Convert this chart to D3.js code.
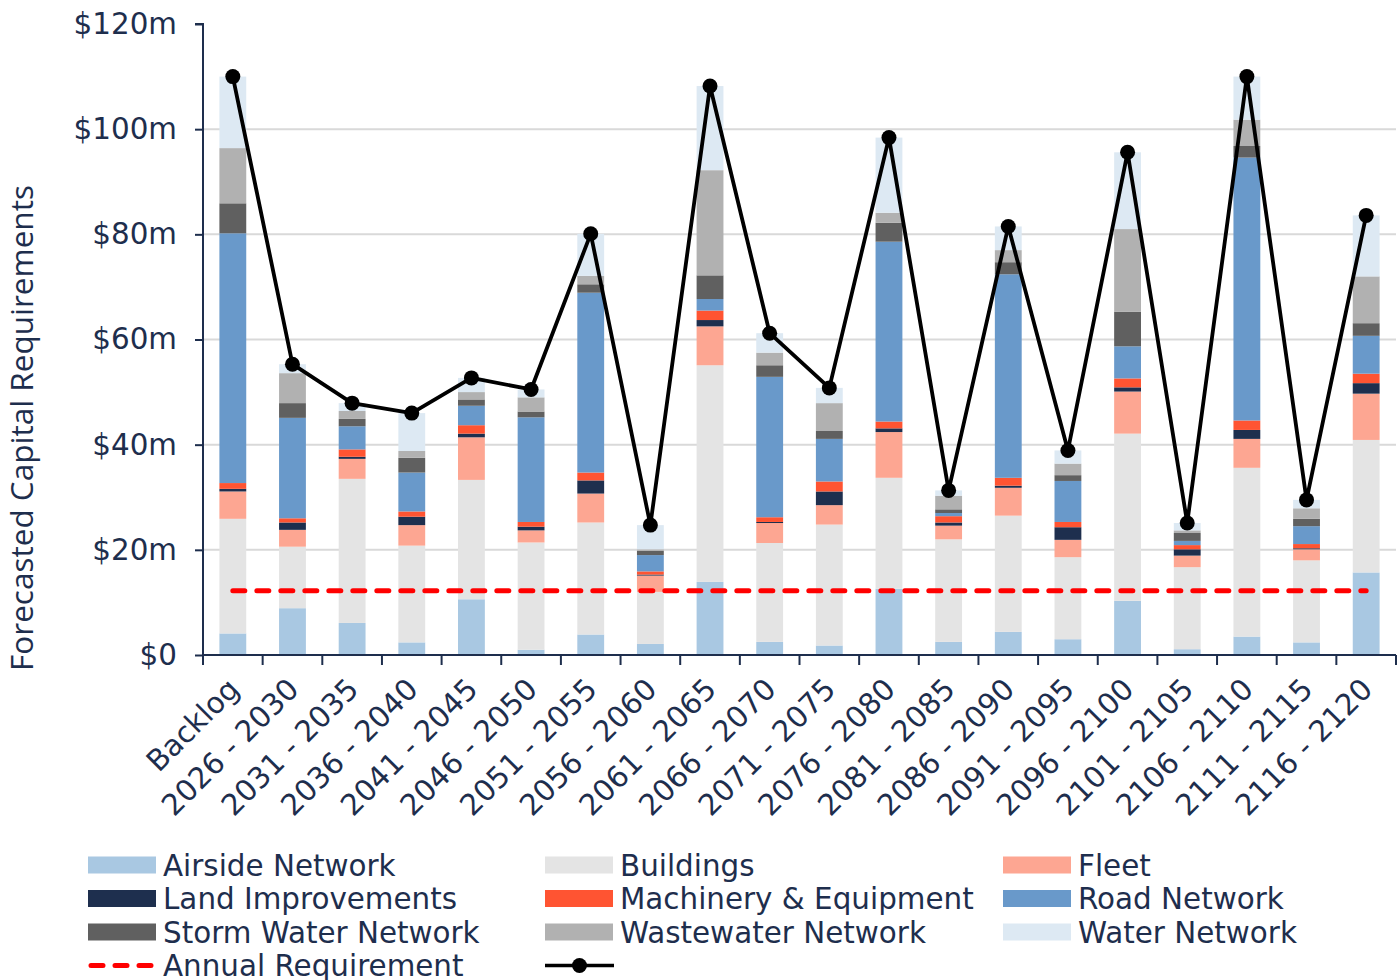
<!DOCTYPE html>
<html>
<head>
<meta charset="utf-8">
<script src="https://cdn.jsdelivr.net/npm/d3@7"></script>
<style>
  html, body { margin: 0; padding: 0; background: #ffffff; }
  svg { display: block; }
</style>
</head>
<body>
<svg id="chart" width="1398" height="980"></svg>
<script>
// ---- Data ($ millions) ----
const categories = ["Backlog", "2026 - 2030", "2031 - 2035", "2036 - 2040", "2041 - 2045",
  "2046 - 2050", "2051 - 2055", "2056 - 2060", "2061 - 2065", "2066 - 2070", "2071 - 2075",
  "2076 - 2080", "2081 - 2085", "2086 - 2090", "2091 - 2095", "2096 - 2100", "2101 - 2105",
  "2106 - 2110", "2111 - 2115", "2116 - 2120"];

const airside    = [4.1, 8.9, 6.1, 2.4, 10.6, 1.0, 3.9, 2.1, 13.9, 2.5, 1.8, 12.6, 2.5, 4.4, 3.0, 10.3, 1.1, 3.5, 2.4, 15.7];
const buildings  = [21.8, 11.7, 27.4, 18.4, 22.7, 20.4, 21.3, 9.9, 41.2, 18.8, 23.0, 21.1, 19.5, 22.1, 15.6, 31.8, 15.6, 32.1, 15.6, 25.2];
const fleet      = [5.2, 3.2, 3.8, 3.9, 8.1, 2.3, 5.5, 3.1, 7.4, 3.8, 3.7, 8.7, 2.6, 5.3, 3.3, 8.0, 2.2, 5.5, 2.1, 8.8];
const land       = [0.5, 1.4, 0.4, 1.6, 0.7, 0.7, 2.5, 0.2, 1.2, 0.2, 2.6, 0.7, 0.6, 0.4, 2.4, 0.8, 1.2, 1.7, 0.2, 2.0];
const machinery  = [1.1, 0.8, 1.4, 1.0, 1.6, 0.9, 1.5, 0.6, 1.8, 0.9, 1.9, 1.3, 1.2, 1.5, 1.0, 1.7, 0.8, 1.8, 0.8, 1.8];
const road       = [47.5, 19.1, 4.4, 7.4, 3.7, 19.9, 34.2, 3.1, 2.2, 26.7, 8.1, 34.2, 0.6, 38.7, 7.8, 6.1, 0.8, 50.0, 3.4, 7.2];
const storm      = [5.7, 2.8, 1.4, 2.8, 1.2, 1.1, 1.6, 0.8, 4.5, 2.2, 1.5, 3.6, 0.7, 2.3, 1.1, 6.6, 1.5, 2.2, 1.4, 2.4];
const wastewater = [10.5, 5.7, 1.5, 1.3, 1.4, 2.7, 1.6, 0.3, 20.0, 2.4, 5.3, 1.9, 2.6, 2.3, 2.2, 15.7, 0.5, 5.0, 2.0, 8.9];
const water      = [13.6, 1.7, 1.5, 7.2, 2.7, 1.5, 8.0, 4.6, 16.0, 3.7, 2.9, 14.3, 1.0, 4.5, 2.5, 14.6, 1.4, 8.2, 1.6, 11.6];

// Total per period (line with markers)
const totals = [110.0, 55.3, 47.9, 46.0, 52.7, 50.5, 80.1, 24.7, 108.2, 61.2, 50.8, 98.4, 31.3, 81.5, 38.9, 95.6, 25.1, 110.0, 29.5, 83.6];

// Average annual requirement (dashed line)
const annualRequirement = 12.2;

const yTickValues = [0, 20, 40, 60, 80, 100, 120];

const seriesNames = ["Airside Network", "Buildings", "Fleet", "Land Improvements",
  "Machinery & Equipment", "Road Network", "Storm Water Network", "Wastewater Network", "Water Network"];
const seriesValues = [airside, buildings, fleet, land, machinery, road, storm, wastewater, water];
const seriesColors = ["#a9c8e2", "#e4e4e4", "#fda692", "#1e2f4e", "#ff5432",
  "#6999ca", "#606060", "#b1b1b1", "#dde9f3"];

// ---- Layout ----
const svg = d3.select("#chart");
const textColor = "#1e2e4d";
const font = "'DejaVu Sans', Verdana, sans-serif";
const fontSize = "29.4px";
const plot = { left: 203, right: 1396, top: 24, bottom: 655 };

const rows = categories.map((c, i) => {
  const r = { category: c };
  seriesNames.forEach((s, k) => { r[s] = seriesValues[k][i]; });
  return r;
});

const x = d3.scaleBand().domain(categories).range([plot.left, plot.right]).paddingInner(0.55).paddingOuter(0.275);
const y = d3.scaleLinear().domain([0, 120]).range([plot.bottom, plot.top]);

// Gridlines
svg.append("g")
  .selectAll("line")
  .data(yTickValues.filter(v => v > 0 && v < 120))
  .join("line")
  .attr("x1", plot.left).attr("x2", plot.right)
  .attr("y1", d => y(d)).attr("y2", d => y(d))
  .attr("stroke", "#d9d9d9").attr("stroke-width", 2);

// Stacked bars
const stacked = d3.stack().keys(seriesNames)(rows);
svg.append("g")
  .selectAll("g")
  .data(stacked)
  .join("g")
  .attr("fill", (d, i) => seriesColors[i])
  .selectAll("rect")
  .data(d => d)
  .join("rect")
  .attr("x", d => x(d.data.category))
  .attr("width", x.bandwidth())
  .attr("y", d => y(d[1]))
  .attr("height", d => y(d[0]) - y(d[1]));

// Y axis
const yAxis = d3.axisLeft(y).tickValues(yTickValues).tickSize(8).tickPadding(18)
  .tickFormat(d => "$" + d + (d === 0 ? "" : "m"));
const gy = svg.append("g").attr("transform", `translate(${plot.left},0)`).call(yAxis);
gy.select(".domain").attr("stroke", textColor).attr("stroke-width", 2).attr("d", `M-8,${y(120)}H0V${plot.bottom}`);
gy.selectAll(".tick line").attr("stroke", textColor).attr("stroke-width", 2);
gy.selectAll(".tick text").attr("fill", textColor).style("font-family", font).style("font-size", fontSize);

// X axis: ticks sit between the categories
const boundaries = d3.range(categories.length + 1).map(i => plot.left + i * x.step());
const gx = svg.append("g");
gx.append("line")
  .attr("x1", plot.left).attr("x2", plot.right)
  .attr("y1", plot.bottom).attr("y2", plot.bottom)
  .attr("stroke", textColor).attr("stroke-width", 2);
gx.selectAll("line.tick")
  .data(boundaries)
  .join("line")
  .attr("class", "tick")
  .attr("x1", d => d).attr("x2", d => d)
  .attr("y1", plot.bottom).attr("y2", plot.bottom + 10)
  .attr("stroke", textColor).attr("stroke-width", 2);
gx.selectAll("text")
  .data(categories)
  .join("text")
  .attr("transform", d => `translate(${x(d) + x.bandwidth() / 2 + 8},${plot.bottom + 36}) rotate(-45)`)
  .attr("text-anchor", "end")
  .attr("fill", textColor)
  .style("font-family", font)
  .style("font-size", fontSize)
  .text(d => d);

// Annual requirement (dashed)
svg.append("line")
  .attr("x1", x(categories[0]) + x.bandwidth() / 2)
  .attr("x2", x(categories[categories.length - 1]) + x.bandwidth() / 2)
  .attr("y1", y(annualRequirement)).attr("y2", y(annualRequirement))
  .attr("stroke", "#ff0000").attr("stroke-width", 5)
  .attr("stroke-dasharray", "12,12").attr("stroke-linecap", "round");

// Total line with markers
const cx = d => x(d) + x.bandwidth() / 2;
svg.append("path")
  .datum(totals)
  .attr("fill", "none").attr("stroke", "#000000").attr("stroke-width", 3.8)
  .attr("stroke-linejoin", "round")
  .attr("d", d3.line().x((d, i) => cx(categories[i])).y(d => y(d)));
svg.append("g")
  .selectAll("circle")
  .data(totals)
  .join("circle")
  .attr("cx", (d, i) => cx(categories[i]))
  .attr("cy", d => y(d))
  .attr("r", 7.5)
  .attr("fill", "#000000");

// Y axis title
svg.append("text")
  .attr("transform", "translate(33,428) rotate(-90)")
  .attr("text-anchor", "middle")
  .attr("fill", textColor)
  .style("font-family", "'Open Sans', 'Noto Sans', sans-serif")
  .style("font-size", "31.5px")
  .text("Forecasted Capital Requirements");

// Legend
const legendCols = [88, 545, 1003];
const legendRows = [865, 898.5, 932, 965.5];
const legend = svg.append("g");
seriesNames.forEach((name, i) => {
  const lx = legendCols[i % 3];
  const ly = legendRows[Math.floor(i / 3)];
  legend.append("rect")
    .attr("x", lx).attr("y", ly - 8.5).attr("width", 68).attr("height", 17)
    .attr("fill", seriesColors[i]);
  legend.append("text")
    .attr("x", lx + 75).attr("y", ly).attr("dy", "0.36em")
    .attr("fill", textColor).style("font-family", font).style("font-size", fontSize)
    .text(name);
});
// Dashed legend entry
const ly4 = legendRows[3];
legend.append("line")
  .attr("x1", legendCols[0] + 3).attr("x2", legendCols[0] + 66)
  .attr("y1", ly4).attr("y2", ly4)
  .attr("stroke", "#ff0000").attr("stroke-width", 5)
  .attr("stroke-dasharray", "12,12").attr("stroke-linecap", "round");
legend.append("text")
  .attr("x", legendCols[0] + 75).attr("y", ly4).attr("dy", "0.36em")
  .attr("fill", textColor).style("font-family", font).style("font-size", fontSize)
  .text("Annual Requirement");
// Line-with-marker legend entry (no label)
legend.append("line")
  .attr("x1", legendCols[1]).attr("x2", legendCols[1] + 69)
  .attr("y1", ly4).attr("y2", ly4)
  .attr("stroke", "#000000").attr("stroke-width", 3.5);
legend.append("circle")
  .attr("cx", legendCols[1] + 34.5).attr("cy", ly4).attr("r", 7.5).attr("fill", "#000000");
</script>
</body>
</html>
